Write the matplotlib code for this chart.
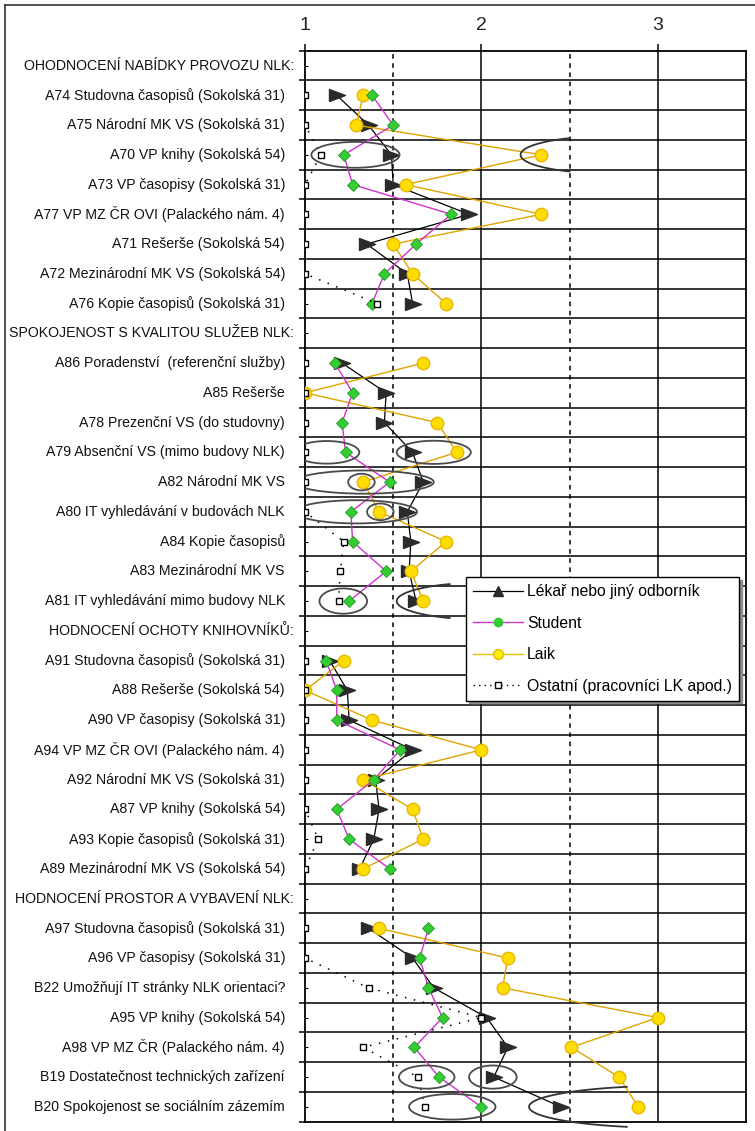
import numpy as np
import matplotlib.pyplot as plt
import matplotlib.transforms as mtransforms
from matplotlib.patches import Ellipse
from matplotlib.lines import Line2D

plt.rcParams['font.family'] = ['Liberation Sans', 'DejaVu Sans']

nan = np.nan

# row labels, top to bottom (section headers have no values)
labels = [
    "OHODNOCENÍ NABÍDKY PROVOZU NLK:",
    "A74 Studovna časopisů (Sokolská 31)",
    "A75 Národní MK VS (Sokolská 31)",
    "A70 VP knihy (Sokolská 54)",
    "A73 VP časopisy (Sokolská 31)",
    "A77 VP MZ ČR OVI (Palackého nám. 4)",
    "A71 Rešerše (Sokolská 54)",
    "A72 Mezinárodní MK VS (Sokolská 54)",
    "A76 Kopie časopisů (Sokolská 31)",
    "SPOKOJENOST S KVALITOU SLUŽEB NLK:",
    "A86 Poradenství  (referenční služby)",
    "A85 Rešerše",
    "A78 Prezenční VS (do studovny)",
    "A79 Absenční VS (mimo budovy NLK)",
    "A82 Národní MK VS",
    "A80 IT vyhledávání v budovách NLK",
    "A84 Kopie časopisů",
    "A83 Mezinárodní MK VS",
    "A81 IT vyhledávání mimo budovy NLK",
    "HODNOCENÍ OCHOTY KNIHOVNÍKŮ:",
    "A91 Studovna časopisů (Sokolská 31)",
    "A88 Rešerše (Sokolská 54)",
    "A90 VP časopisy (Sokolská 31)",
    "A94 VP MZ ČR OVI (Palackého nám. 4)",
    "A92 Národní MK VS (Sokolská 31)",
    "A87 VP knihy (Sokolská 54)",
    "A93 Kopie časopisů (Sokolská 31)",
    "A89 Mezinárodní MK VS (Sokolská 54)",
    "HODNOCENÍ PROSTOR A VYBAVENÍ NLK:",
    "A97 Studovna časopisů (Sokolská 31)",
    "A96 VP časopisy (Sokolská 31)",
    "B22 Umožňují IT stránky NLK orientaci?",
    "A95 VP knihy (Sokolská 54)",
    "A98 VP MZ ČR (Palackého nám. 4)",
    "B19 Dostatečnost technických zařízení",
    "B20 Spokojenost se sociálním zázemím",
]
headers = [0, 9, 19, 28]

lekar = [nan, 1.18, 1.36, 1.49, 1.50, 1.93, 1.35, 1.58, 1.61,
         nan, 1.21, 1.46, 1.45, 1.61, 1.67, 1.58, 1.60, 1.59, 1.63,
         nan, 1.14, 1.24, 1.25, 1.61, 1.40, 1.42, 1.39, 1.31,
         nan, 1.36, 1.61, 1.73, 2.03, 2.15, 2.07, 2.45]
student = [nan, 1.38, 1.50, 1.22, 1.27, 1.83, 1.63, 1.45, 1.38,
           nan, 1.17, 1.27, 1.21, 1.23, 1.48, 1.26, 1.27, 1.46, 1.25,
           nan, 1.12, 1.18, 1.18, 1.54, 1.39, 1.18, 1.25, 1.48,
           nan, 1.70, 1.65, 1.70, 1.78, 1.62, 1.76, 2.00]
laik = [nan, 1.33, 1.29, 2.34, 1.57, 2.34, 1.50, 1.61, 1.80,
        nan, 1.67, 1.00, 1.75, 1.86, 1.33, 1.42, 1.80, 1.60, 1.67,
        nan, 1.22, 1.00, 1.38, 2.00, 1.33, 1.61, 1.67, 1.33,
        nan, 1.42, 2.15, 2.12, 3.00, 2.51, 2.78, 2.89]
ostatni = [nan, 1.0, 1.0, 1.09, 1.0, 1.0, 1.0, 1.0, 1.41,
           nan, 1.0, 1.0, 1.0, 1.0, 1.0, 1.0, 1.22, 1.20, 1.19,
           nan, 1.0, 1.0, 1.0, 1.0, 1.0, 1.0, 1.075, 1.0,
           nan, 1.0, 1.0, 1.36, 2.00, 1.33, 1.64, 1.68]

# highlighted ranges: (row, centre, width, height in rows)
ellipses = [(3, 1.286, 0.50, 0.87),
            (13, 1.123, 0.37, 0.76), (13, 1.73, 0.42, 0.78),
            (14, 1.335, 0.79, 0.78), (14, 1.32, 0.15, 0.56),
            (15, 1.29, 0.69, 0.78), (15, 1.427, 0.15, 0.56),
            (18, 1.217, 0.27, 0.85),
            (34, 1.69, 0.315, 0.78), (34, 2.065, 0.27, 0.78),
            (35, 1.835, 0.49, 0.86)]
# open ellipse arcs: (row, centre, semi-x, semi-y, start deg, end deg)
arcs = [(3, 2.722, 0.5, 0.626, 116.4, 243.6),
        (18, 2.02, 0.5, 0.623, 113.6, 246.4),
        (35, 3.07, 0.8, 0.706, 107.9, 252.1)]

W, H = 755, 1131
fig = plt.figure(figsize=(W / 100, H / 100), dpi=100)
ax = fig.add_axes([305 / W, 1 - 1121.7 / H, 441 / W, 1071 / H])

rows = np.arange(len(labels))
ax.set_xlim(1, 3.5)
ax.set_ylim(len(labels) - 0.5, -0.5)

# grid
for b in np.arange(0.5, len(labels) - 0.5):
    ax.axhline(b, color='black', lw=1.1, zorder=1)
for v in [2, 3]:
    ax.axvline(v, color='black', lw=1.1, zorder=1)
for v in [1.5, 2.5]:
    ax.axvline(v, color='black', lw=1.1, ls=(0, (3, 3)), zorder=1)

tri = [(-1, -0.75), (1, 0), (-1, 0.75), (-1, -0.75)]

ax.plot(lekar, rows, color='black', lw=0.9, marker=tri, ms=11.5,
        mfc='#2b2b2b', mec='#2b2b2b', zorder=3)
ax.plot(laik, rows, color='#e0a400', lw=1.0, marker='o', ms=9,
        mfc='#ffdd00', mec='#e8b800', zorder=4)
ax.plot(student, rows, color='#cc33cc', lw=1.0, marker='D', ms=6.5,
        mfc='#33cc33', mec='#229922', mew=0.6, zorder=5)
ax.plot(ostatni, rows, color='black', lw=1.1, ls=(0, (1, 5)), marker='s', ms=5,
        mfc='white', mec='black', mew=1.0, zorder=6)

for r, cx, w, h in ellipses:
    ax.add_patch(Ellipse((cx, r), w, h, fill=False, edgecolor='#4a4a4a', lw=1.3, zorder=7))
for r, cx, a, b, t1, t2 in arcs:
    t = np.radians(np.linspace(t1, t2, 80))
    ax.plot(cx + a * np.cos(t), r + b * np.sin(t), color='#333333', lw=1.3,
            zorder=7, clip_on=False)

# axes look
ax.xaxis.tick_top()
ax.set_xticks([1, 2, 3])
ax.set_xticklabels(['1', '2', '3'], fontsize=14, color='#222222')
ax.tick_params(axis='x', direction='out', length=5, width=1.1, pad=7)
ax.set_yticks(np.arange(-0.5, len(labels)))
ax.set_yticklabels([])
ax.set_yticks(rows, minor=True)
ax.tick_params(axis='y', which='major', direction='out', length=4, width=1.1)
ax.tick_params(axis='y', which='minor', direction='in', length=2, width=0.8)
for s in ax.spines.values():
    s.set_linewidth(1.3)

# row labels
tr = mtransforms.blended_transform_factory(fig.transFigure, ax.transData)
for i, lab in enumerate(labels):
    x = 294 / W if i in headers else 285 / W
    ax.text(x, i, lab, transform=tr, ha='right', va='center', fontsize=10.2,
            color='#111111')

# legend
handles = [
    Line2D([], [], color='black', lw=0.9, marker='^', ms=7, mfc='#2b2b2b', mec='#2b2b2b'),
    Line2D([], [], color='#cc33cc', lw=1.0, marker='o', ms=6, mfc='#33cc33', mec='#33cc33'),
    Line2D([], [], color='#e0c400', lw=1.0, marker='o', ms=7, mfc='#ffee00', mec='#e8b800'),
    Line2D([], [], color='black', lw=1.0, ls=(0, (1, 3)), marker='s', ms=5, mfc='white', mec='black'),
]
names = ['Lékař nebo jiný odborník', 'Student', 'Laik', 'Ostatní (pracovníci LK apod.)']
leg = ax.legend(handles, names, loc='upper left', bbox_to_anchor=(466 / W, 1 - 577 / H),
                bbox_transform=fig.transFigure, borderaxespad=0, fontsize=11.3,
                frameon=True, fancybox=False, edgecolor='black', framealpha=1,
                shadow={'color': '0.55', 'alpha': 1}, handlelength=3.2,
                handletextpad=0.25, labelspacing=1.05, borderpad=0.45)
leg.get_frame().set_linewidth(1.0)
leg.set_zorder(10)

# outer border of the original picture
fig.add_artist(Line2D([5 / W, 1], [1 - 5 / H, 1 - 5 / H], transform=fig.transFigure,
                      color='#333333', lw=1.2))
fig.add_artist(Line2D([5 / W, 5 / W], [0, 1 - 5 / H], transform=fig.transFigure,
                      color='#333333', lw=1.2))

fig.savefig('out.png', dpi=100)
